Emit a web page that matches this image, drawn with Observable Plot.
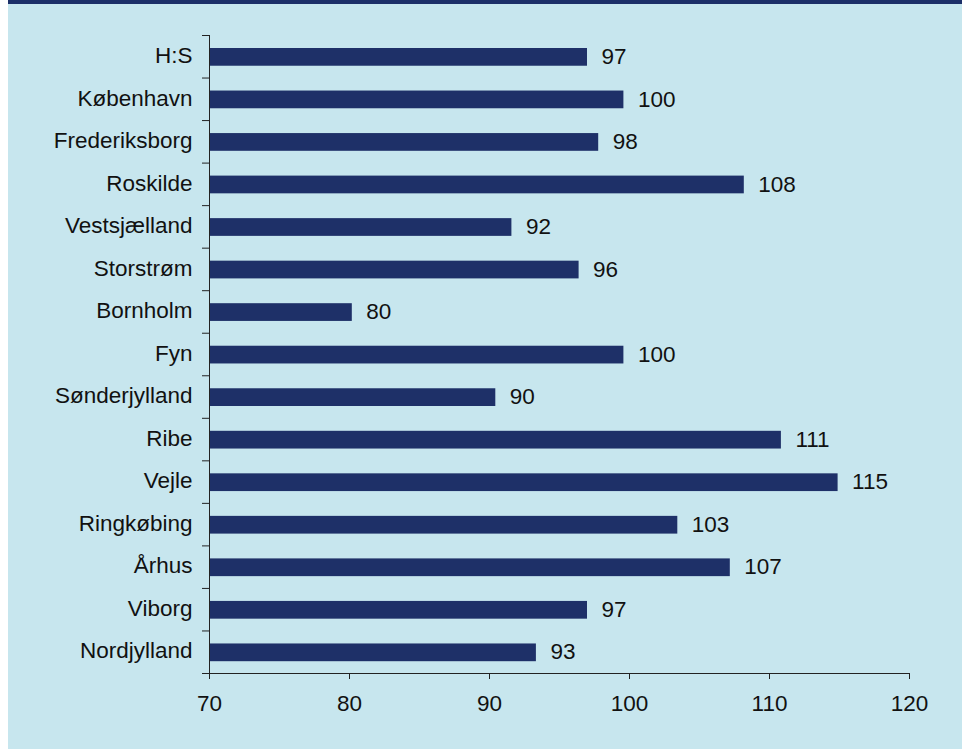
<!DOCTYPE html>
<html>
<head>
<meta charset="utf-8">
<script src="https://cdn.jsdelivr.net/npm/d3@7"></script>
<script src="https://cdn.jsdelivr.net/npm/@observablehq/plot@0.6"></script>
<style>
  html, body { margin: 0; padding: 0; background: #ffffff; }
  #panel {
    position: absolute; left: 8px; top: 0; width: 954px; height: 749px;
    box-sizing: border-box; border-top: 4px solid #1c2f68; background: #c7e6ee;
    overflow: hidden;
  }
  #panel svg { display: block; }
</style>
</head>
<body>
<div id="panel"></div>
<script>
const categories = ["H:S", "København", "Frederiksborg", "Roskilde", "Vestsjælland", "Storstrøm", "Bornholm", "Fyn", "Sønderjylland", "Ribe", "Vejle", "Ringkøbing", "Århus", "Viborg", "Nordjylland"];
const values = [97.0, 99.6, 97.8, 108.2, 91.6, 96.4, 80.2, 99.6, 90.45, 110.85, 114.9, 103.45, 107.2, 97.0, 93.35];
const valueLabels = ["97", "100", "98", "108", "92", "96", "80", "100", "90", "111", "115", "103", "107", "97", "93"];
const xTicks = [70, 80, 90, 100, 110, 120];

const data = categories.map((name, i) => ({name, i, value: values[i], label: valueLabels[i]}));
const bounds = d3.range(0, categories.length + 1);
const centres = categories.map((_, i) => i + 0.5);

const font = "'Liberation Sans', Arial, sans-serif";
const chart = Plot.plot({
  width: 954,
  height: 745,
  marginLeft: 201,
  marginRight: 53,
  marginTop: 31,
  marginBottom: 76,
  style: {background: "transparent", fontFamily: font, fontSize: "22.5px", color: "#111"},
  x: {domain: [70, 120], axis: null, label: null},
  y: {domain: [0, categories.length], reverse: true, axis: null, label: null},
  marks: [
    Plot.rect(data, {x1: () => 70, x2: "value", y1: "i", y2: d => d.i + 1, insetTop: 13, insetBottom: 11.8, fill: "#1e3068"}),
    Plot.text(data, {x: "value", y: d => d.i + 0.5, text: "label", textAnchor: "start", dx: 14, fill: "#111", fontSize: 22.5}),
    Plot.axisY({ticks: centres, tickSize: 0, tickPadding: 17, tickFormat: v => categories[Math.floor(v)], fontSize: 22.5, dy: -1, fill: "#111", label: null}),
    Plot.axisY({ticks: bounds, tickSize: 7, tickFormat: () => "", stroke: "#222", label: null}),
    Plot.axisX({ticks: xTicks, tickSize: 6, tickPadding: 16, tickFormat: d3.format("d"), fontSize: 22.5, stroke: "#222", fill: "#111", label: null}),
    Plot.ruleX([70], {stroke: "#222"}),
    Plot.ruleY([categories.length], {stroke: "#222"})
  ]
});
document.getElementById("panel").appendChild(chart);
</script>
</body>
</html>
